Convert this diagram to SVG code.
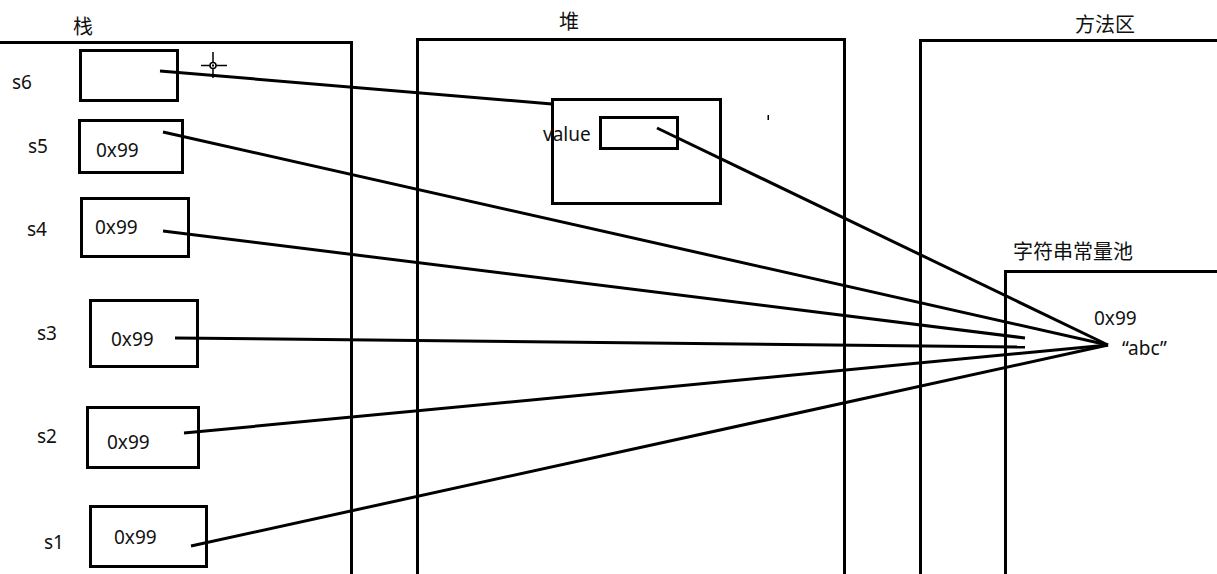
<svg xmlns="http://www.w3.org/2000/svg" width="1217" height="574" viewBox="0 0 1217 574">
<style>
.box{fill:none;stroke:#000;stroke-width:3}
.area{fill:none;stroke:#000;stroke-width:3}
.t{font-family:"Noto Sans","Liberation Sans",sans-serif;font-size:19px;fill:#111}
.c{font-family:"Noto Sans CJK SC","Noto Sans",sans-serif;font-size:20px;fill:#111}
.conn line{stroke:#000;stroke-width:3;stroke-linecap:butt}
</style>
<rect width="1217" height="574" fill="#fff"/>
<g id="stack-area">
<path class="area" d="M0,42.5 H351.5 V574"/>
<text class="c" x="73" y="34">栈</text>
</g>
<g id="heap-area">
<path class="area" d="M417.5,574 V39.5 H844.5 V574"/>
<text class="c" x="559" y="29">堆</text>
</g>
<g id="method-area">
<path class="area" d="M920.5,574 V40.5 H1217"/>
<text class="c" x="1075" y="32">方法区</text>
</g>
<g id="string-pool">
<path class="area" d="M1005.5,574 V271.5 H1217"/>
<text class="c" x="1013" y="259">字符串常量池</text>
<text class="t" x="1094" y="325">0x99</text>
<text class="t" x="1122" y="355">“abc”</text>
</g>
<g id="s6">
<text class="t" x="12" y="89">s6</text>
<rect class="box" x="80.5" y="50.5" width="97" height="50"/>
</g>
<g id="s5">
<text class="t" x="28" y="153">s5</text>
<rect class="box" x="79.5" y="120.5" width="103" height="52"/>
<text class="t" x="96" y="157">0x99</text>
</g>
<g id="s4">
<text class="t" x="27" y="236">s4</text>
<rect class="box" x="81.5" y="198.5" width="107" height="58"/>
<text class="t" x="95" y="234">0x99</text>
</g>
<g id="s3">
<text class="t" x="37" y="340">s3</text>
<rect class="box" x="90.5" y="300.5" width="107" height="66"/>
<text class="t" x="111" y="346">0x99</text>
</g>
<g id="s2">
<text class="t" x="37" y="443">s2</text>
<rect class="box" x="87.5" y="407.5" width="111" height="60"/>
<text class="t" x="107" y="449">0x99</text>
</g>
<g id="s1">
<text class="t" x="44" y="549">s1</text>
<rect class="box" x="90.5" y="506.5" width="116" height="60"/>
<text class="t" x="114" y="544">0x99</text>
</g>
<g id="string-object">
<rect class="box" x="552.5" y="99.5" width="168" height="104"/>
<text class="t" x="543" y="141">value</text>
<rect class="box" x="600.5" y="117.5" width="77" height="31"/>
</g>
<g id="connectors" class="conn">
<line x1="160" y1="71" x2="552" y2="104"/>
<line x1="657" y1="128" x2="1108" y2="345"/>
<line x1="163" y1="132" x2="1108" y2="345"/>
<line x1="163" y1="231" x2="1025" y2="338"/>
<line x1="175" y1="338" x2="1025" y2="347"/>
<line x1="184" y1="433" x2="1108" y2="345"/>
<line x1="191" y1="546" x2="1108" y2="345"/>
</g>
<g id="cursor" stroke="#000" stroke-width="1.5" fill="none">
<line x1="201" y1="65.5" x2="210" y2="65.5"/>
<line x1="216" y1="65.5" x2="227" y2="65.5"/>
<line x1="213" y1="52" x2="213" y2="62"/>
<line x1="213" y1="69" x2="213" y2="78"/>
<circle cx="213" cy="65.5" r="3"/>
<rect x="212" y="64.5" width="2" height="2" fill="#000" stroke="none"/>
</g>
<rect x="767.5" y="115" width="1.5" height="5" fill="#000"/>
</svg>
